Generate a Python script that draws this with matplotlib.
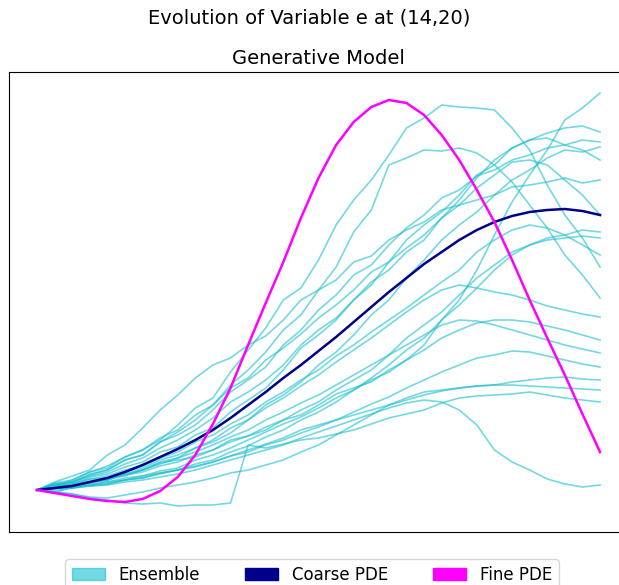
import numpy as np
import matplotlib
matplotlib.use("Agg")
import matplotlib.pyplot as plt
from matplotlib.patches import Patch

# time steps
time = np.arange(33)

# coarse PDE solution for variable e
coarse_pde = [0.10, 0.12, 0.14, 0.18, 0.22, 0.28, 0.35, 0.43, 0.51, 0.60, 0.70,
              0.82, 0.95, 1.08, 1.22, 1.35, 1.49, 1.63, 1.78, 1.93, 2.08, 2.22,
              2.36, 2.48, 2.60, 2.70, 2.78, 2.84, 2.88, 2.90, 2.91, 2.89, 2.85]

# fine PDE solution for variable e
fine_pde = [0.10, 0.07, 0.04, 0.01, -0.01, -0.02, 0.01, 0.09, 0.23, 0.45, 0.76,
            1.12, 1.55, 1.97, 2.38, 2.82, 3.22, 3.55, 3.78, 3.93, 4.00, 3.97,
            3.85, 3.65, 3.40, 3.10, 2.78, 2.40, 2.00, 1.62, 1.25, 0.86, 0.48]

# generative model ensemble members
ens_01 = [0.10, 0.15, 0.16, 0.21, 0.22, 0.24, 0.30, 0.37, 0.40, 0.43, 0.50, 0.60, 0.64, 0.70, 0.80, 0.85, 0.95,
          1.06, 1.12, 1.18, 1.30, 1.40, 1.55, 1.80, 2.00, 2.30, 2.65, 2.98, 3.25, 3.50, 3.80, 3.92, 4.07]
ens_02 = [0.10, 0.13, 0.20, 0.28, 0.32, 0.43, 0.50, 0.60, 0.75, 0.92, 1.02, 1.28, 1.50, 1.72, 2.00, 2.12, 2.40,
          2.75, 3.00, 3.20, 3.45, 3.72, 3.82, 3.95, 3.93, 3.92, 3.90, 3.72, 3.50, 3.15, 2.85, 2.62, 2.33]
ens_03 = [0.10, 0.18, 0.24, 0.30, 0.45, 0.55, 0.72, 0.90, 1.05, 1.22, 1.35, 1.42, 1.55, 1.64, 1.80, 2.00, 2.10,
          2.20, 2.38, 2.44, 2.60, 2.70, 2.78, 2.90, 2.95, 3.00, 3.05, 3.13, 3.15, 3.18, 3.22, 3.17, 3.20]
ens_04 = [0.10, 0.16, 0.18, 0.25, 0.30, 0.40, 0.45, 0.58, 0.68, 0.80, 0.95, 1.15, 1.30, 1.48, 1.70, 1.85, 2.10,
          2.33, 2.68, 2.90, 3.35, 3.42, 3.50, 3.49, 3.52, 3.47, 3.35, 3.18, 2.95, 2.72, 2.45, 2.25, 2.02]
ens_05 = [0.10, 0.12, 0.17, 0.23, 0.26, 0.33, 0.38, 0.48, 0.53, 0.65, 0.72, 0.88, 1.00, 1.12, 1.30, 1.52, 1.65,
          1.80, 2.00, 2.15, 2.38, 2.60, 2.75, 2.88, 3.05, 3.25, 3.35, 3.52, 3.60, 3.67, 3.72, 3.74, 3.68]
ens_06 = [0.10, 0.15, 0.18, 0.26, 0.30, 0.40, 0.45, 0.58, 0.65, 0.75, 0.90, 1.08, 1.20, 1.33, 1.55, 1.70, 1.90,
          2.05, 2.25, 2.35, 2.55, 2.72, 2.85, 3.02, 3.10, 3.24, 3.30, 3.40, 3.45, 3.52, 3.55, 3.60, 3.58]
ens_07 = [0.10, 0.13, 0.14, 0.18, 0.20, 0.26, 0.30, 0.38, 0.42, 0.52, 0.58, 0.67, 0.80, 0.95, 1.05, 1.18, 1.35,
          1.48, 1.65, 1.85, 2.00, 2.22, 2.40, 2.60, 2.75, 2.88, 3.05, 3.20, 3.30, 3.42, 3.50, 3.48, 3.53]
ens_08 = [0.10, 0.16, 0.18, 0.24, 0.28, 0.36, 0.42, 0.52, 0.60, 0.70, 0.82, 0.98, 1.08, 1.20, 1.35, 1.55, 1.70,
          1.82, 2.00, 2.18, 2.30, 2.48, 2.60, 2.82, 3.00, 3.22, 3.40, 3.52, 3.60, 3.62, 3.55, 3.50, 3.40]
ens_09 = [0.10, 0.17, 0.20, 0.28, 0.34, 0.43, 0.50, 0.62, 0.70, 0.85, 0.95, 1.12, 1.22, 1.40, 1.52, 1.66, 1.82,
          1.95, 2.10, 2.28, 2.38, 2.52, 2.65, 2.82, 2.95, 3.12, 3.25, 3.38, 3.40, 3.35, 3.20, 3.05, 2.85]
ens_10 = [0.10, 0.11, 0.14, 0.18, 0.20, 0.25, 0.28, 0.34, 0.38, 0.45, 0.50, 0.58, 0.64, 0.73, 0.80, 0.90, 0.98,
          1.10, 1.20, 1.30, 1.45, 1.62, 1.75, 1.88, 2.05, 2.22, 2.35, 2.48, 2.55, 2.62, 2.65, 2.70, 2.68]
ens_11 = [0.10, 0.13, 0.12, 0.15, 0.16, 0.20, 0.22, 0.27, 0.30, 0.36, 0.40, 0.48, 0.54, 0.63, 0.70, 0.80, 0.88,
          0.98, 1.10, 1.22, 1.35, 1.50, 1.62, 1.80, 1.95, 2.12, 2.30, 2.45, 2.55, 2.60, 2.62, 2.64, 2.62]
ens_12 = [0.10, 0.12, 0.16, 0.21, 0.24, 0.30, 0.34, 0.42, 0.48, 0.58, 0.65, 0.76, 0.85, 0.98, 1.08, 1.20, 1.30,
          1.44, 1.55, 1.68, 1.80, 1.92, 2.05, 2.18, 2.30, 2.48, 2.60, 2.70, 2.75, 2.72, 2.65, 2.55, 2.45]
ens_13 = [0.10, 0.14, 0.15, 0.19, 0.22, 0.28, 0.32, 0.40, 0.45, 0.52, 0.60, 0.72, 0.80, 0.92, 1.02, 1.14, 1.25,
          1.38, 1.50, 1.62, 1.75, 1.88, 2.00, 2.10, 2.15, 2.12, 2.08, 2.05, 2.00, 1.94, 1.90, 1.86, 1.83]
ens_14 = [0.10, 0.12, 0.13, 0.16, 0.18, 0.22, 0.24, 0.29, 0.32, 0.40, 0.45, 0.52, 0.60, 0.68, 0.76, 0.83, 0.92,
          1.02, 1.10, 1.20, 1.28, 1.40, 1.50, 1.62, 1.70, 1.77, 1.80, 1.80, 1.78, 1.74, 1.70, 1.65, 1.60]
ens_15 = [0.10, 0.12, 0.14, 0.17, 0.20, 0.26, 0.30, 0.36, 0.42, 0.48, 0.55, 0.63, 0.70, 0.80, 0.88, 0.97, 1.05,
          1.15, 1.25, 1.35, 1.45, 1.55, 1.65, 1.75, 1.80, 1.79, 1.75, 1.70, 1.65, 1.60, 1.55, 1.51, 1.47]
ens_16 = [0.10, 0.09, 0.12, 0.14, 0.16, 0.20, 0.22, 0.26, 0.30, 0.34, 0.38, 0.44, 0.48, 0.55, 0.60, 0.67, 0.73,
          0.80, 0.88, 0.96, 1.03, 1.12, 1.20, 1.28, 1.35, 1.42, 1.45, 1.49, 1.48, 1.44, 1.40, 1.36, 1.33]
ens_17 = [0.10, 0.08, 0.06, 0.03, 0.02, 0.05, 0.08, 0.12, 0.15, 0.18, 0.22, 0.27, 0.30, 0.35, 0.40, 0.48, 0.55,
          0.65, 0.75, 0.85, 0.95, 1.02, 1.08, 1.10, 1.12, 1.14, 1.15, 1.18, 1.20, 1.22, 1.23, 1.21, 1.20]
ens_18 = [0.10, 0.07, 0.13, 0.15, 0.18, 0.20, 0.24, 0.27, 0.30, 0.33, 0.38, 0.44, 0.50, 0.56, 0.62, 0.70, 0.75,
          0.80, 0.85, 0.90, 0.95, 1.00, 1.05, 1.09, 1.12, 1.14, 1.15, 1.15, 1.14, 1.13, 1.12, 1.11, 1.10]
ens_19 = [0.10, 0.08, 0.06, 0.02, 0.00, -0.03, -0.04, -0.03, -0.06, -0.05, -0.05, -0.03, 0.55, 0.52, 0.56, 0.60, 0.62,
          0.66, 0.70, 0.76, 0.82, 0.86, 0.90, 0.97, 1.02, 1.04, 1.05, 1.06, 1.08, 1.05, 1.02, 1.00, 0.98]
ens_20 = [0.10, 0.11, 0.12, 0.14, 0.15, 0.18, 0.20, 0.23, 0.26, 0.30, 0.35, 0.40, 0.45, 0.50, 0.55, 0.62, 0.68,
          0.74, 0.80, 0.86, 0.92, 0.97, 1.00, 0.98, 0.90, 0.75, 0.50, 0.38, 0.30, 0.21, 0.16, 0.13, 0.15]

ensemble = [ens_01, ens_02, ens_03, ens_04, ens_05, ens_06, ens_07, ens_08, ens_09, ens_10,
            ens_11, ens_12, ens_13, ens_14, ens_15, ens_16, ens_17, ens_18, ens_19, ens_20]

fig = plt.figure(figsize=(6.19, 5.85), dpi=100)
ax = fig.add_axes([9 / 619, 53 / 585, 1.0, 460 / 585])

for member in ensemble:
    ax.plot(time, member, color='tab:cyan', alpha=0.6, lw=1.2)
ax.plot(time, coarse_pde, color='darkblue', lw=1.8)
ax.plot(time, fine_pde, color='magenta', lw=1.8)

ax.set_xlim(-1.59, 33.59)
ax.set_ylim(-0.32, 4.28)
ax.set_xticks([])
ax.set_yticks([])
ax.set_title('Generative Model', fontsize=14)
fig.suptitle('Evolution of Variable e at (14,20)', fontsize=14, y=0.985)

handles = [Patch(color='tab:cyan', alpha=0.6, label='Ensemble'),
           Patch(color='darkblue', label='Coarse PDE'),
           Patch(color='magenta', label='Fine PDE')]
fig.legend(handles=handles, loc='upper center', bbox_to_anchor=(0.504, 0.058),
           ncol=3, fontsize=12, columnspacing=2.7)

fig.savefig('out.png', dpi=100)
